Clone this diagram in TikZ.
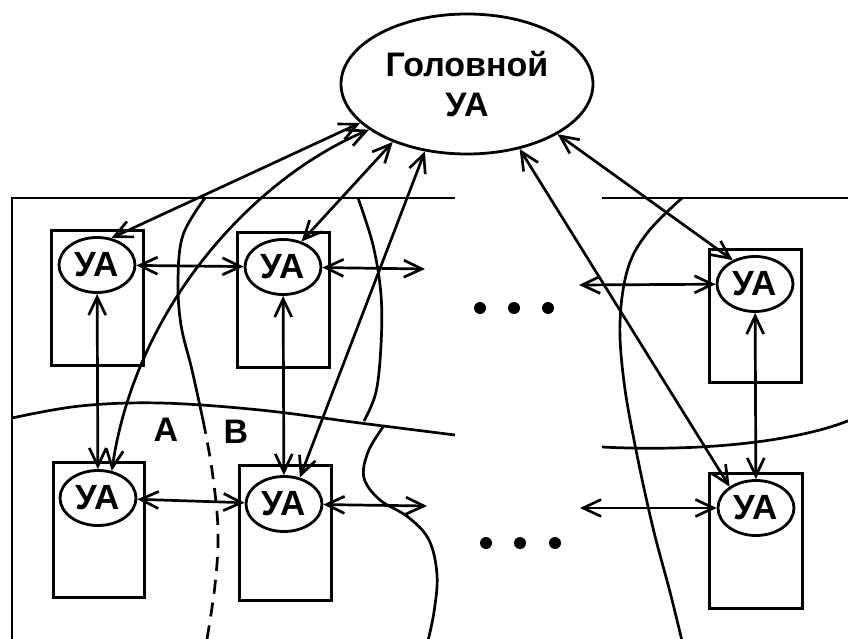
\documentclass[tikz,border=0pt]{standalone}
\usepackage{fontspec}
\setmainfont{Liberation Sans}
\usetikzlibrary{shapes.geometric,arrows.meta}
\begin{document}
\begin{tikzpicture}[x=1pt,y=-1pt,line width=2.8pt,
  ua/.style={ellipse,draw,fill=white,minimum width=76pt,minimum height=55pt,inner sep=0pt,
    font=\bfseries\fontsize{35}{38}\selectfont},
  headua/.style={ellipse,draw,fill=white,minimum width=252pt,minimum height=140pt,inner sep=0pt,
    align=center,font=\bfseries\fontsize{34}{40}\selectfont},
  conn/.style={{Straight Barb[length=18pt,width=17pt]}-{Straight Barb[length=18pt,width=17pt]},line width=2.7pt},
  bnd/.style={line width=2.7pt},
  unitbox/.style={draw,line width=3pt},
  lbl/.style={font=\bfseries\fontsize{34}{38}\selectfont,inner sep=0pt},
  dotmark/.style={fill=black}]
\useasboundingbox (0,0) rectangle (848,639);
% frame
\draw[bnd] (455,198) -- (12,198) -- (12,645);
\draw[bnd] (602,198) -- (855,198);
% boundaries
\draw[bnd] plot[smooth,tension=0.6] coordinates {(12,418) (80,406) (160,403) (260,410) (360,423) (455,435)};
\draw[bnd] (602,447) .. controls (700,452) and (800,442) .. (855,418);
\draw[bnd] plot[smooth,tension=0.6] coordinates {(205,198) (183,235) (178,280) (181,325) (192,370) (203,420)};
\draw[bnd,dash pattern=on 14pt off 9pt] plot[smooth,tension=0.6] coordinates {(203,420) (212,470) (218,530) (215,585) (206,645)};
\draw[bnd] plot[smooth,tension=0.6] coordinates {(358,198) (373,245) (381,295) (381,345) (376,392) (364,421)};
\draw[bnd] plot[smooth,tension=0.6] coordinates {(383,427) (368,452) (364,478) (380,500) (408,517) (429,540) (437,575) (434,612) (427,645)};
\draw[bnd] plot[smooth,tension=0.6] coordinates {(682,198) (648,232) (628,268) (620,322) (624,382) (636,450) (653,528) (670,592) (683,645)};
% boxes
\draw[unitbox] (51,230) rectangle (143,365);
\draw[unitbox] (237,232) rectangle (329,367);
\draw[unitbox] (53,462) rectangle (144,597);
\draw[unitbox] (239,465) rectangle (331,600);
\draw[unitbox] (709,249) rectangle (801,382);
\draw[unitbox] (709,473) rectangle (802,608);
% nodes
\node[headua] (head) at (467,84) {Головной\\УА};
\node[ua] (TL) at (97,265) {УА};
\node[ua] (TM) at (283,267) {УА};
\node[ua] (BL) at (98,498) {УА};
\node[ua] (BM) at (284,504) {УА};
\node[ua] (TR) at (755,284) {УА};
\node[ua] (BR) at (756,508) {УА};
\coordinate (t1) at (425,269);
\coordinate (b1) at (427,506);
\coordinate (t2) at (579,285);
\coordinate (b2) at (580,508);
% dots
\foreach \px/\nm in {480/d1,514/d2,548/d3} \fill[dotmark] (\px,308) circle (6pt);
\foreach \px/\nm in {486/d4,520/d5,555/d6} \fill[dotmark] (\px,543) circle (6pt);
% labels
\node[lbl] (la) at (166,430) {А};
\node[lbl] (lb) at (236,432) {В};
% connectors
\draw[conn] (TL) -- (TM);
\draw[conn] (TM) -- (t1);
\draw[conn] (BL) -- (BM);
\draw[conn] (BM) -- (b1);
\draw[conn] (t2) -- (TR);
\draw[conn] (b2) -- (BR);
\draw[conn] (TL) -- (BL);
\draw[conn] (TM) -- (BM);
\draw[conn] (TR) -- (BR);
\draw[conn] (head.200) -- (TL.62);
\draw[conn] (head.205) .. controls (250,180) and (135,310) .. (BL.63);
\draw[conn] (head.218) -- (TM.54);
\draw[conn] (head.238) -- (BM.59);
\draw[conn] (head.331) -- (TR.133);
\draw[conn] (head.309) -- (BR.141);
\end{tikzpicture}
\end{document}
